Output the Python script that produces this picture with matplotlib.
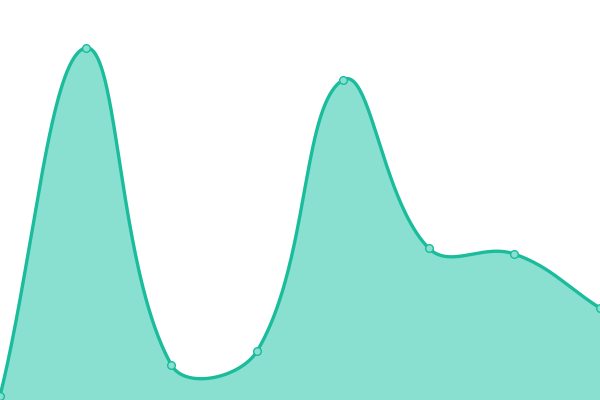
import numpy as np
import matplotlib
matplotlib.use("Agg")
import matplotlib.pyplot as plt

x_vals = [0, 1, 2, 3, 4, 5, 6, 7]
y_vals = [4, 352, 35, 49, 320, 152, 146, 92]

line_color = "#1abc9c"
fill_color = "#89e0d0"

W, H = 600, 400


def spline_curve(xs, ys, tension=0.4, steps=80):
    # work in pixel space so the arm lengths follow on-screen distances
    px = np.asarray(xs, dtype=float) * W / (len(xs) - 1)
    py = np.asarray(ys, dtype=float)
    n = len(px)
    ctrl_prev = []
    ctrl_next = []
    for i in range(n):
        p0 = np.array([px[max(i - 1, 0)], py[max(i - 1, 0)]])
        p1 = np.array([px[i], py[i]])
        p2 = np.array([px[min(i + 1, n - 1)], py[min(i + 1, n - 1)]])
        d01 = np.hypot(*(p1 - p0))
        d12 = np.hypot(*(p2 - p1))
        s01 = d01 / (d01 + d12) if d01 + d12 else 0
        s12 = d12 / (d01 + d12) if d01 + d12 else 0
        fa = tension * s01
        fb = tension * s12
        cp = p1 - fa * (p2 - p0)
        cn = p1 + fb * (p2 - p0)
        cp = np.clip(cp, [0, 0], [W, H])
        cn = np.clip(cn, [0, 0], [W, H])
        ctrl_prev.append(cp)
        ctrl_next.append(cn)
    out_x, out_y = [], []
    t = np.linspace(0, 1, steps)[:, None]
    for i in range(n - 1):
        a = np.array([px[i], py[i]])
        b = ctrl_next[i]
        c = ctrl_prev[i + 1]
        d = np.array([px[i + 1], py[i + 1]])
        pts = (1 - t) ** 3 * a + 3 * (1 - t) ** 2 * t * b + 3 * (1 - t) * t ** 2 * c + t ** 3 * d
        out_x.append(pts[:, 0])
        out_y.append(pts[:, 1])
    return np.concatenate(out_x) * (len(xs) - 1) / W, np.concatenate(out_y)


sx, sy = spline_curve(x_vals, y_vals)

fig = plt.figure(figsize=(6, 4), dpi=100)
ax = fig.add_axes([0, 0, 1, 1])

ax.fill_between(sx, 0, sy, color=fill_color, lw=0)
ax.plot(sx, sy, color=line_color, lw=2.4, solid_capstyle="round")
ax.plot(x_vals, y_vals, "o", ms=5.5, mfc=fill_color, mec=line_color, mew=1.0)

ax.set_xlim(0, 7)
ax.set_ylim(0, 400)
ax.axis("off")

fig.savefig("out.png", dpi=100)
